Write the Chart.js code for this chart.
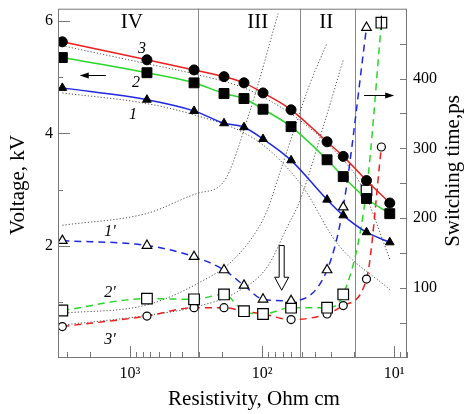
<!DOCTYPE html>
<html><head><meta charset="utf-8">
<script src="https://cdn.jsdelivr.net/npm/chart.js@4"></script>
<style>html,body{margin:0;padding:0;background:#fff}canvas{display:block}</style>
</head><body>
<canvas id="c" width="465" height="414" style="width:465px;height:414px"></canvas>
<script>
// ---------- data ----------
const rhoV = [3245, 743, 327, 194, 137, 98.3, 60.3, 32.2, 24.3, 16.2, 10.8];          // Ohm cm
const voltage3 = [5.63, 5.31, 5.13, 5.01, 4.90, 4.72, 4.42, 3.85, 3.59, 3.16, 2.76];   // kV (curve 3)
const voltage2 = [5.35, 5.08, 4.90, 4.71, 4.62, 4.43, 4.12, 3.53, 3.23, 2.84, 2.57];   // kV (curve 2)
const voltage1 = [4.81, 4.60, 4.40, 4.18, 4.11, 3.90, 3.52, 2.82, 2.54, 2.24, 2.06];   // kV (curve 1)

const rhoT = [3245, 743, 327, 194, 137, 98.3, 60.3, 32.2, 24.3, 16.2, 12.5];           // Ohm cm
const time1 = [168, 161, 145, 126, 104, 84, 82, 126, 216, 473];                       // ps (1')
const time2 = [68, 85, 84, 91, 67, 63, 72, 72, 91, 240, 480];                         // ps (2')
const time3 = [45, 60, 72, 72, 67, 63, 55, 63, 75, 113, 302];                         // ps (3')
const time2LastErr = 10;                                                               // ps

// calculated (dotted) curves
const calcV3Rho = [3245, 743, 327, 137, 87, 51.5, 27, 18.1, 10.7];
const calcV3 = [5.56, 5.24, 5.06, 4.81, 4.58, 4.23, 3.64, 3.11, 1.74];
const calcV1Rho = [3245, 743, 327, 137, 87, 48.9, 27, 10.7];
const calcV1 = [4.72, 4.53, 4.33, 4.01, 3.69, 3.04, 2.04, 1.21];
const calcT1Rho = [3245, 743, 305, 197.5, 123.3, 75.6];
const calcT1 = [190, 207, 236, 251, 354, 493];
const calcT2Rho = [3275, 743, 305, 165.9, 109.1, 91.6, 73.1, 43.3, 32.2];
const calcT2 = [64, 76, 107, 140, 183, 211, 266, 393, 451];
const calcT3Rho = [3275, 743, 305, 160, 91.6, 64.7, 51.5, 33.3, 24.3];
const calcT3 = [47, 61, 74, 93, 130, 187, 226, 340, 427];

// annotations
const regionBounds = [305, 51.5, 19.8];
const regionNames = ['IV', 'III', 'II'];
const regionNameRho = [965, 108, 32.7];
const regionNameKV = 5.97;
const curveNames = ['3', '2', '1'];
const curveNameRho = [811, 901, 949];
const curveNameKV = [5.51, 4.90, 4.33];
const timeNames = ["1'", "2'", "3'"];
const timeNameRho = [1418, 1418, 1418];
const timeNamePs = [180, 94, 26];
const bigArrow = {rho: 71, fromPs: 161, toPs: 97};
const leftArrow = {fromRho: 1520, toRho: 2395, kV: 5.04};
const rightArrow = {fromRho: 16.9, toRho: 10, ps: 377};

const RED = 'rgb(238,30,30)', GREEN = 'rgb(40,215,40)', BLUE = 'rgb(30,40,225)';
const SERIF = '"Liberation Serif", "Times New Roman", serif';
const sup = {1: '\u00b9', 2: '\u00b2', 3: '\u00b3'};

const pts = (xs, ys) => ys.map((v, i) => ({x: xs[i], y: v}));

function solidSet(data, color, style, r) {
  return {data, yAxisID: 'y', borderColor: color, borderWidth: 1.5, showLine: true,
    cubicInterpolationMode: 'monotone', pointStyle: style, pointRadius: r,
    pointBackgroundColor: '#000', pointBorderColor: '#000', pointBorderWidth: 1};
}
function dashSet(data, color, style, r) {
  return {data, yAxisID: 'y2', borderColor: color, borderWidth: 1.5, borderDash: [7, 5], showLine: true,
    cubicInterpolationMode: 'monotone', pointStyle: style, pointRadius: r,
    pointBackgroundColor: '#fff', pointBorderColor: '#000', pointBorderWidth: 1.2};
}
function dotSet(data, axis) {
  return {data, yAxisID: axis, borderColor: '#505050', borderWidth: 1, borderDash: [1.2, 2],
    showLine: true, cubicInterpolationMode: 'monotone', pointRadius: 0};
}
function noPad(s) { s.paddingTop = 0; s.paddingBottom = 0; s.paddingLeft = 0; s.paddingRight = 0; }

const decor = {
  id: 'decor',
  beforeDatasetsDraw(chart) {
    const {ctx, chartArea: a, scales: {x}} = chart;
    ctx.save();
    ctx.strokeStyle = '#8a8a8a'; ctx.lineWidth = 1;
    regionBounds.forEach(r => {
      const px = Math.round(x.getPixelForValue(r)) + 0.5;
      ctx.beginPath(); ctx.moveTo(px, a.top); ctx.lineTo(px, a.bottom); ctx.stroke();
    });
    ctx.restore();
  },
  afterDatasetsDraw(chart) {
    const {ctx, chartArea: a, scales: {x, y, y2}} = chart;
    ctx.save();
    // frame
    ctx.strokeStyle = '#777'; ctx.lineWidth = 1;
    ctx.strokeRect(a.left + 0.5, a.top + 0.5, a.right - a.left - 1, a.bottom - a.top - 1);
    // inward ticks
    ctx.beginPath();
    for (let e = 0; e <= 4; e++) for (let m = 1; m <= 9; m++) {
      const v = m * Math.pow(10, e);
      if (v < x.min || v > x.max) continue;
      const px = Math.round(x.getPixelForValue(v)) + 0.5;
      const len = m === 1 ? 12 : 6;
      ctx.moveTo(px, a.bottom); ctx.lineTo(px, a.bottom - len);
    }
    for (let v = 1; v <= Math.floor(y.max); v++) {
      const py = Math.round(y.getPixelForValue(v)) + 0.5;
      ctx.moveTo(a.left, py); ctx.lineTo(a.left + (v % 2 === 0 ? 12 : 5), py);
    }
    for (let v = 50; v < y2.max; v += 50) {
      const py = Math.round(y2.getPixelForValue(v)) + 0.5;
      ctx.moveTo(a.right, py); ctx.lineTo(a.right - 7, py);
    }
    ctx.stroke();

    // error bar of last 2' point
    const li = time2.length - 1;
    const ex = x.getPixelForValue(rhoT[li]);
    ctx.strokeStyle = '#000'; ctx.lineWidth = 1.2;
    ctx.beginPath();
    ctx.moveTo(ex, y2.getPixelForValue(time2[li] + time2LastErr));
    ctx.lineTo(ex, y2.getPixelForValue(time2[li] - time2LastErr));
    ctx.stroke();

    // region names
    ctx.fillStyle = '#000';
    ctx.textAlign = 'center'; ctx.textBaseline = 'middle';
    ctx.font = '21px ' + SERIF;
    regionNames.forEach((t, i) => ctx.fillText(t, x.getPixelForValue(regionNameRho[i]), y.getPixelForValue(regionNameKV)));
    // curve names
    ctx.font = 'italic 16px ' + SERIF;
    curveNames.forEach((t, i) => ctx.fillText(t, x.getPixelForValue(curveNameRho[i]), y.getPixelForValue(curveNameKV[i])));
    timeNames.forEach((t, i) => ctx.fillText(t, x.getPixelForValue(timeNameRho[i]), y2.getPixelForValue(timeNamePs[i])));

    // big hollow arrow
    {
      const px = x.getPixelForValue(bigArrow.rho);
      const y1 = y2.getPixelForValue(bigArrow.fromPs), yt = y2.getPixelForValue(bigArrow.toPs);
      const sw = 2.5, hw = 7, hl = 13;
      ctx.beginPath();
      ctx.moveTo(px - sw, y1); ctx.lineTo(px + sw, y1); ctx.lineTo(px + sw, yt - hl);
      ctx.lineTo(px + hw, yt - hl); ctx.lineTo(px, yt); ctx.lineTo(px - hw, yt - hl);
      ctx.lineTo(px - sw, yt - hl); ctx.closePath();
      ctx.fillStyle = '#fff'; ctx.fill();
      ctx.strokeStyle = '#000'; ctx.lineWidth = 1; ctx.stroke();
    }
    // small arrows
    const smallArrow = (x1, yy, x2) => {
      const d = Math.sign(x2 - x1);
      ctx.strokeStyle = '#000'; ctx.fillStyle = '#000'; ctx.lineWidth = 1;
      ctx.beginPath(); ctx.moveTo(x1, yy); ctx.lineTo(x2 - d * 6, yy); ctx.stroke();
      ctx.beginPath(); ctx.moveTo(x2, yy); ctx.lineTo(x2 - d * 9, yy - 3); ctx.lineTo(x2 - d * 9, yy + 3); ctx.closePath(); ctx.fill();
    };
    smallArrow(x.getPixelForValue(leftArrow.fromRho), Math.round(y.getPixelForValue(leftArrow.kV)) + 0.5, x.getPixelForValue(leftArrow.toRho));
    smallArrow(x.getPixelForValue(rightArrow.fromRho), Math.round(y2.getPixelForValue(rightArrow.ps)) + 0.5, x.getPixelForValue(rightArrow.toRho));
    ctx.restore();
  },
  afterDraw(chart) {
    const {ctx} = chart;
    ctx.save();
    ctx.fillStyle = '#000'; ctx.font = '21px ' + SERIF;
    ctx.textAlign = 'center'; ctx.textBaseline = 'middle';
    ctx.fillText('Resistivity, Ohm cm', 254, 399);
    ctx.translate(18, 185); ctx.rotate(-Math.PI / 2); ctx.fillText('Voltage, kV', 0, 0);
    ctx.restore();
    ctx.save();
    ctx.fillStyle = '#000'; ctx.font = '21px ' + SERIF;
    ctx.textAlign = 'center'; ctx.textBaseline = 'middle';
    ctx.translate(453, 171); ctx.rotate(-Math.PI / 2); ctx.fillText('Switching time,ps', 0, 0);
    ctx.restore();
  }
};

new Chart(document.getElementById('c'), {
  type: 'line',
  data: {
    datasets: [
      solidSet(pts(rhoV, voltage3), RED, 'circle', 5),
      solidSet(pts(rhoV, voltage2), GREEN, 'rect', 7),
      solidSet(pts(rhoV, voltage1), BLUE, 'triangle', 5),
      dashSet(pts(rhoT, time1), BLUE, 'triangle', 5.5),
      dashSet(pts(rhoT, time2), GREEN, 'rect', 7.5),
      dashSet(pts(rhoT, time3), RED, 'circle', 4),
      dotSet(pts(calcV3Rho, calcV3), 'y'),
      dotSet(pts(calcV1Rho, calcV1), 'y'),
      dotSet(pts(calcT1Rho, calcT1), 'y2'),
      dotSet(pts(calcT2Rho, calcT2), 'y2'),
      dotSet(pts(calcT3Rho, calcT3), 'y2')
    ]
  },
  options: {
    responsive: false, devicePixelRatio: 1, animation: false,
    layout: {padding: {top: 8, left: 0, right: 0, bottom: 0}},
    plugins: {legend: {display: false}, tooltip: {enabled: false}},
    scales: {
      x: {
        type: 'logarithmic', reverse: true, min: 8, max: 3500, position: 'bottom',
        grid: {display: false, drawTicks: false}, border: {display: false},
        ticks: {autoSkip: false, maxRotation: 0, padding: 6, color: '#000',
          font: {family: SERIF, size: 16},
          callback: (v) => {
            const l = Math.log10(v);
            return Math.abs(l - Math.round(l)) < 1e-9 && sup[Math.round(l)] ? '10' + sup[Math.round(l)] : '';
          }},
        afterFit(s) { s.height = 56; noPad(s); }
      },
      y: {
        position: 'left', min: 0, max: 6.22,
        grid: {display: false, drawTicks: false}, border: {display: false},
        ticks: {stepSize: 1, includeBounds: false, padding: 5, color: '#000', font: {family: SERIF, size: 16},
          callback: (v) => (v > 0 && v % 2 === 0) ? String(v) : ''},
        afterFit(s) { s.width = 58; noPad(s); }
      },
      y2: {
        position: 'right', min: 0, max: 500,
        grid: {display: false, drawTicks: false}, border: {display: false},
        ticks: {stepSize: 100, includeBounds: false, padding: 6, color: '#000', font: {family: SERIF, size: 16},
          callback: (v) => (v > 0 && v < 500) ? String(v) : ''},
        afterFit(s) { s.width = 58; noPad(s); }
      }
    }
  },
  plugins: [decor]
});
</script>
</body></html>
